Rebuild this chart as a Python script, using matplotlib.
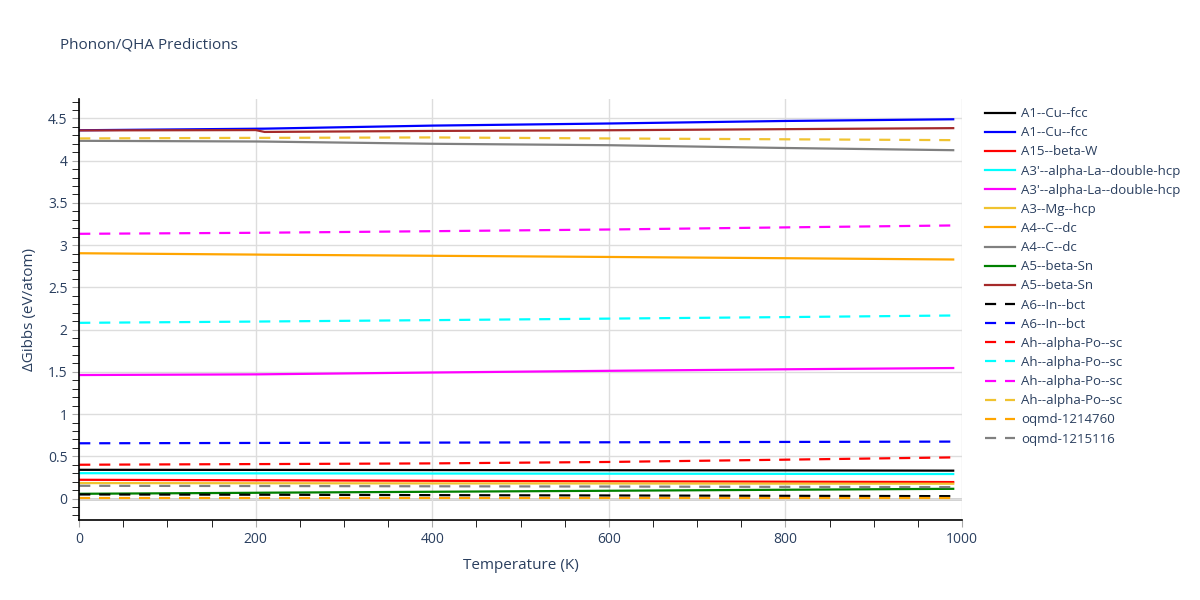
import matplotlib.pyplot as plt
from matplotlib.ticker import MultipleLocator

# Temperature samples (K)
temps = [0, 200, 210, 400, 600, 800, 990]

# Solid lines (values in eV/atom)
a1_cu_fcc_black = [0.340, 0.339, 0.339, 0.337, 0.335, 0.333, 0.330]
a1_cu_fcc_blue = [4.360, 4.378, 4.379, 4.415, 4.440, 4.470, 4.490]
a15_beta_w = [0.222, 0.216, 0.216, 0.210, 0.204, 0.199, 0.195]
a3p_la_cyan = [0.300, 0.298, 0.298, 0.296, 0.294, 0.292, 0.290]
a3p_la_magenta = [1.462, 1.470, 1.471, 1.492, 1.512, 1.530, 1.545]
a3_mg_hcp = [0.183, 0.181, 0.181, 0.179, 0.178, 0.176, 0.175]
a4_c_dc_orange = [2.904, 2.888, 2.887, 2.874, 2.860, 2.845, 2.830]
a4_c_dc_gray = [4.235, 4.227, 4.226, 4.200, 4.183, 4.150, 4.124]
a5_beta_sn_green = [0.056, 0.068, 0.069, 0.080, 0.092, 0.104, 0.115]
a5_beta_sn_brown = [4.358, 4.362, 4.340, 4.352, 4.360, 4.373, 4.385]

# Dashed lines
a6_in_bct_black = [0.048, 0.045, 0.045, 0.040, 0.036, 0.032, 0.028]
a6_in_bct_blue = [0.654, 0.658, 0.658, 0.662, 0.666, 0.670, 0.674]
ah_po_red = [0.400, 0.408, 0.408, 0.416, 0.433, 0.460, 0.487]
ah_po_cyan = [2.080, 2.095, 2.096, 2.112, 2.130, 2.148, 2.167]
ah_po_magenta = [3.134, 3.146, 3.147, 3.165, 3.185, 3.210, 3.233]
ah_po_gold = [4.263, 4.270, 4.270, 4.275, 4.263, 4.253, 4.243]
oqmd_1214760 = [0.002, 0.002, 0.002, 0.002, 0.002, 0.002, 0.002]
oqmd_1215116 = [0.151, 0.148, 0.148, 0.145, 0.142, 0.138, 0.135]

series = [
    ("A1--Cu--fcc", a1_cu_fcc_black, "black", "-"),
    ("A1--Cu--fcc", a1_cu_fcc_blue, "blue", "-"),
    ("A15--beta-W", a15_beta_w, "red", "-"),
    ("A3'--alpha-La--double-hcp", a3p_la_cyan, "cyan", "-"),
    ("A3'--alpha-La--double-hcp", a3p_la_magenta, "magenta", "-"),
    ("A3--Mg--hcp", a3_mg_hcp, "#f0c330", "-"),
    ("A4--C--dc", a4_c_dc_orange, "orange", "-"),
    ("A4--C--dc", a4_c_dc_gray, "gray", "-"),
    ("A5--beta-Sn", a5_beta_sn_green, "green", "-"),
    ("A5--beta-Sn", a5_beta_sn_brown, "brown", "-"),
    ("A6--In--bct", a6_in_bct_black, "black", "--"),
    ("A6--In--bct", a6_in_bct_blue, "blue", "--"),
    ("Ah--alpha-Po--sc", ah_po_red, "red", "--"),
    ("Ah--alpha-Po--sc", ah_po_cyan, "cyan", "--"),
    ("Ah--alpha-Po--sc", ah_po_magenta, "magenta", "--"),
    ("Ah--alpha-Po--sc", ah_po_gold, "#f0c330", "--"),
    ("oqmd-1214760", oqmd_1214760, "orange", "--"),
    ("oqmd-1215116", oqmd_1215116, "gray", "--"),
]

text_color = "#2a3f5f"
plt.rcParams['font.family'] = ['Open Sans', 'DejaVu Sans']

fig = plt.figure(figsize=(12, 6), dpi=100)
ax = fig.add_axes([0.066, 0.1335, 0.7357, 0.7015])

for name, vals, color, ls in series:
    if ls == "--":
        ax.plot(temps, vals, color=color, linestyle="--", linewidth=1.6,
                dashes=(5, 4), label=name)
    else:
        ax.plot(temps, vals, color=color, linestyle="-", linewidth=1.6,
                label=name)

ax.set_xlim(0, 1000)
ax.set_ylim(-0.253, 4.73)
ax.xaxis.set_major_locator(MultipleLocator(200))
ax.xaxis.set_minor_locator(MultipleLocator(50))
ax.yaxis.set_minor_locator(MultipleLocator(0.1))
ax.set_yticks([0, 0.5, 1, 1.5, 2, 2.5, 3, 3.5, 4, 4.5])
ax.set_yticklabels(["0", "0.5", "1", "1.5", "2", "2.5", "3", "3.5", "4", "4.5"])

ax.grid(True, which="major", color="#dddddd", linewidth=1)
ax.axhline(0, color="#cccccc", linewidth=2, zorder=0.5)
ax.set_axisbelow(True)
for side in ["top", "right"]:
    ax.spines[side].set_visible(False)
for side in ["left", "bottom"]:
    ax.spines[side].set_color("black")
    ax.spines[side].set_linewidth(1.2)

ax.tick_params(axis="both", which="major", length=5, color="#aaaaaa",
               labelcolor=text_color, labelsize=10)
ax.tick_params(axis="both", which="minor", length=5, color="black")

ax.set_xlabel("Temperature (K)", color=text_color, fontsize=11, labelpad=8)
ax.set_ylabel("ΔGibbs (eV/atom)", color=text_color, fontsize=11, labelpad=8)

fig.text(0.05, 0.925, "Phonon/QHA Predictions", color=text_color, fontsize=11,
         va="center")

leg = ax.legend(loc="upper left", bbox_to_anchor=(1.0195, 0.993), frameon=False,
                fontsize=9.5, handlelength=2.3, labelspacing=0.465,
                handletextpad=0.45, borderaxespad=0)
for t in leg.get_texts():
    t.set_color(text_color)

fig.savefig("out.png", dpi=100)
